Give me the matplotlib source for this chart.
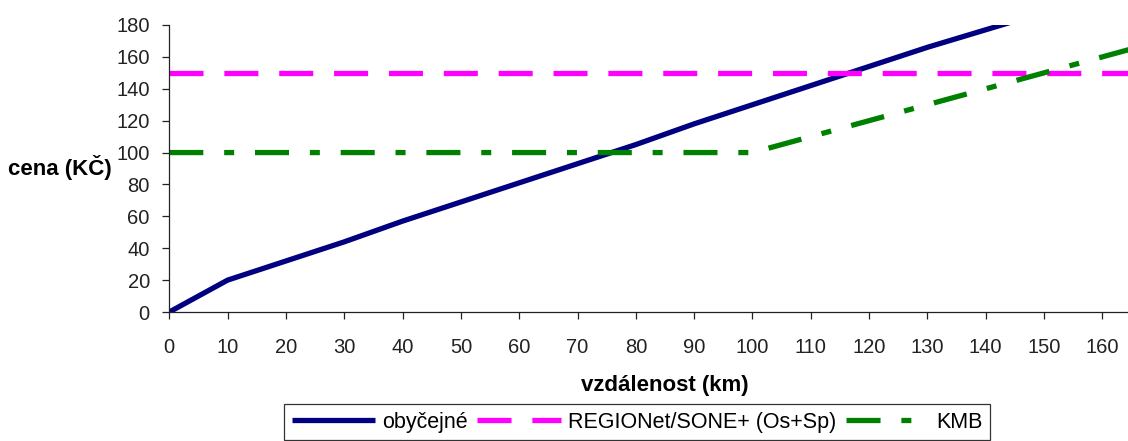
import matplotlib
matplotlib.use("Agg")
import matplotlib.pyplot as plt

plt.rcParams["font.family"] = ["Liberation Sans", "DejaVu Sans"]
plt.rcParams["lines.scale_dashes"] = False  # dash lengths in points

# distance (km) and fare (Kč)
km = [0, 10, 20, 30, 40, 50, 60, 70, 80, 90, 100, 110, 120, 130, 140, 150, 160, 170]
obycejne = [0, 20, 32, 44, 57, 69, 81, 93, 105, 118, 130, 142, 154, 166, 177, 188, 199, 210]
region = [150] * len(km)
kmb = [100, 100, 100, 100, 100, 100, 100, 100, 100, 100, 100, 110, 120, 130, 140, 150, 160, 170]

DASH_REGION = (24.5, 15)
DASH_KMB = (24.5, 15, 7.2, 15)

fig = plt.figure(figsize=(11.28, 4.41), dpi=100)
ax = fig.add_axes([169.3 / 1128, 1 - 312 / 441, 1 - 169.3 / 1128, (312 - 25) / 441])

ax.plot(km, obycejne, color="#000080", lw=3.8, solid_capstyle="butt",
        label="obyčejné")
ax.plot(km, region, color="#FF00FF", lw=3.8, dashes=DASH_REGION,
        label="REGIONet/SONE+ (Os+Sp)")
ax.plot(km, kmb, color="#008000", lw=3.8, dashes=DASH_KMB,
        label="KMB")

ax.set_xlim(0, 164.4)
ax.set_ylim(0, 180)
ax.set_xticks(range(0, 161, 10))
ax.set_yticks(range(0, 181, 20))
for s in ("top", "right"):
    ax.spines[s].set_visible(False)
for s in ("left", "bottom"):
    ax.spines[s].set_linewidth(0.9)
    ax.spines[s].set_color("#222222")
ax.tick_params(axis="y", length=5, width=0.9, pad=9, labelsize=14.5, colors="#222222")
ax.tick_params(axis="x", length=5, width=0.9, pad=13.5, labelsize=14.5, colors="#222222")

fig.text(8 / 1128, 1 - 168 / 441, "cena (KČ)", fontsize=16, fontweight="bold",
         ha="left", va="center")
fig.text(665 / 1128, 1 - 385 / 441, "vzdálenost (km)", fontsize=16,
         fontweight="bold", ha="center", va="center")

leg = fig.legend(loc="upper left", bbox_to_anchor=(284 / 1128, 1 - 404 / 441),
                 ncol=3, fontsize=15.5, frameon=True, fancybox=False,
                 handlelength=3.9, handletextpad=0.3, columnspacing=0.45,
                 borderpad=0.35, borderaxespad=0)
leg.get_frame().set_edgecolor("black")
leg.get_frame().set_linewidth(0.9)
for ln in leg.get_lines():
    ln.set_dash_capstyle("butt")
    ln.set_solid_capstyle("butt")

fig.savefig("out.png", dpi=100)
